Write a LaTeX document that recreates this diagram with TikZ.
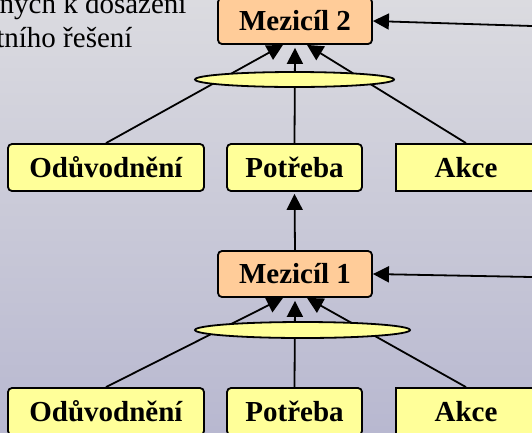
\documentclass[tikz,border=0pt]{standalone}
\usepackage{fontspec}
\setmainfont{Liberation Serif}
\usepackage{tikz}
\usetikzlibrary{arrows.meta,shapes,positioning,calc}
\usepackage{xcolor}
\definecolor{mzorange}{RGB}{255,204,153}
\definecolor{mzyellow}{RGB}{255,255,153}
\definecolor{mzbgtop}{RGB}{219,219,224}
\definecolor{mzbgbottom}{RGB}{184,184,208}
\tikzstyle{arrow} = [line width=1.8pt,-{Triangle[length=16pt,width=16pt]}]

\begin{document}
\begin{tikzpicture}[
    x=1pt, y=-1pt,
    every node/.style={font=\fontsize{29}{34}\selectfont},
    box/.style={rectangle, rounded corners=4pt, draw=black, line width=1.8pt, fill=mzyellow, minimum height=47pt, inner sep=0pt, text height=19pt, text depth=0pt, align=center, font=\fontsize{29}{34}\selectfont\bfseries},
    goal/.style={box, fill=mzorange, minimum width=154pt, minimum height=46pt},
    plainbox/.style={box, sharp corners},
    andnode/.style={ellipse, draw=black, line width=1.8pt, fill=mzyellow, inner sep=0pt, minimum height=15pt}
]

% Background
\shade[top color=mzbgtop, bottom color=mzbgbottom] (0,0) rectangle (532,432);
\useasboundingbox (0,0) rectangle (532,432);

% Note text (top left)
\node[anchor=base east] (note1) at (190,13) {nych k dosažení};
\node[anchor=base east] (note2) at (136,47) {tního řešení};

% Goals
\node[goal] (mezicil2) at (295,21) {Mezicíl 2};
\node[goal] (mezicil1) at (295,274) {Mezicíl 1};

% Upper row
\node[box, minimum width=196pt] (oduv2) at (106,167.5) {Odůvodnění};
\node[box, minimum width=135pt] (potr2) at (294.5,167.5) {Potřeba};
\node[plainbox, minimum width=140pt] (akce2) at (466,167.5) {Akce};

% Lower row
\node[box, minimum width=196pt] (oduv1) at (106,411.5) {Odůvodnění};
\node[box, minimum width=135pt] (potr1) at (294.5,411.5) {Potřeba};
\node[plainbox, minimum width=140pt] (akce1) at (466,411.5) {Akce};

% Sources (right, off the picture)
\coordinate (src2) at (532,26);
\coordinate (src1) at (532,277);

% Arrows
\draw[arrow] (oduv2.north) -- ($(mezicil2.south)+(-12,0)$);
\draw[arrow] (potr2.north) -- ($(mezicil2.south)+(0,3)$);
\draw[arrow] (akce2.north) -- ($(mezicil2.south)+(12,0)$);
\draw[arrow] (oduv1.north) -- ($(mezicil1.south)+(-12,0)$);
\draw[arrow] (potr1.north) -- ($(mezicil1.south)+(0,3)$);
\draw[arrow] (akce1.north) -- ($(mezicil1.south)+(12,0)$);
\draw[arrow, shorten >=2pt] (mezicil1.north) -- (potr2.south);
\draw[arrow] (src2) -- (mezicil2.east);
\draw[arrow] (src1) -- (mezicil1.east);

% AND ellipses
\node[andnode, minimum width=199pt] (and2) at (294.5,79.5) {};
\node[andnode, minimum width=215pt, minimum height=16pt] (and1) at (302.5,330) {};

\end{tikzpicture}
\end{document}
